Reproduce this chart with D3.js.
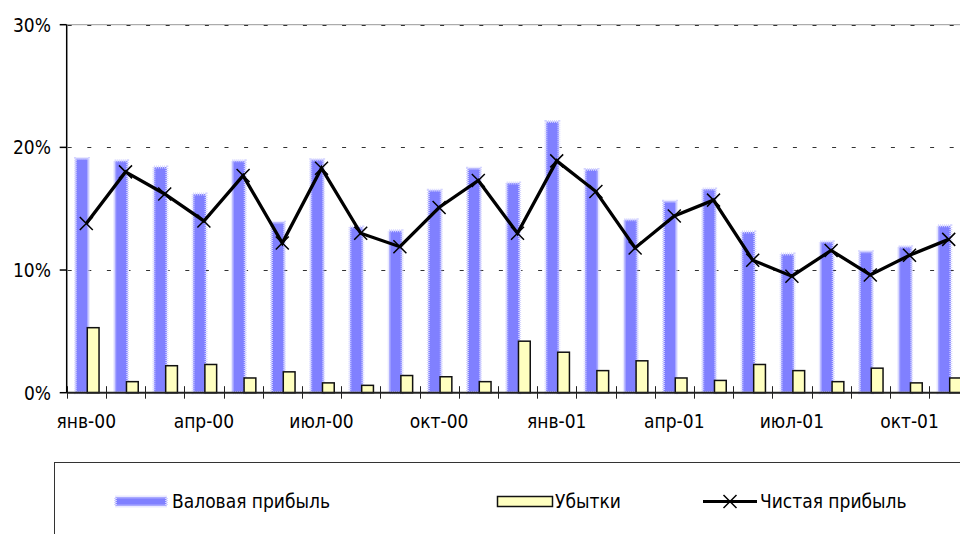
<!DOCTYPE html>
<html>
<head>
<meta charset="utf-8">
<script src="https://cdn.jsdelivr.net/npm/d3@7"></script>
<style>
  html, body { margin: 0; padding: 0; background: #fff; }
  svg { display: block; font-family: "DejaVu Sans Condensed", "DejaVu Sans", sans-serif; }
</style>
</head>
<body>
<div id="chart"></div>
<script>
const months = ['янв-00', 'фев-00', 'мар-00', 'апр-00', 'май-00', 'июн-00', 'июл-00', 'авг-00', 'сен-00', 'окт-00', 'ноя-00', 'дек-00',
    'янв-01', 'фев-01', 'мар-01', 'апр-01', 'май-01', 'июн-01', 'июл-01', 'авг-01', 'сен-01', 'окт-01', 'ноя-01'];
const grossProfit = [19.1, 18.9, 18.4, 16.2, 18.9, 13.9, 19.0, 13.5, 13.2, 16.5, 18.3, 17.1,
    22.1, 18.2, 14.1, 15.6, 16.6, 13.1, 11.3, 12.3, 11.5, 11.9, 13.6];
const losses = [5.3, 0.9, 2.2, 2.3, 1.2, 1.7, 0.8, 0.6, 1.4, 1.3, 0.9, 4.2,
    3.3, 1.8, 2.6, 1.2, 1.0, 2.3, 1.8, 0.9, 2.0, 0.8, 1.2];
const netProfit = [13.8, 18.0, 16.2, 14.0, 17.7, 12.2, 18.3, 13.0, 11.9, 15.1, 17.3, 13.0,
    18.9, 16.4, 11.8, 14.4, 15.7, 10.8, 9.5, 11.6, 9.6, 11.2, 12.5];
const yTicks = [0, 10, 20, 30];
const seriesNames = ['Валовая прибыль', 'Убытки', 'Чистая прибыль'];

const width = 960, height = 534;
const left = 66.7, step = 39.2;

const svg = d3.select('#chart').append('svg')
    .attr('width', width)
    .attr('height', height);

const x = d3.scaleBand()
    .domain(months)
    .range([left, left + months.length * step]);
const y = d3.scaleLinear().domain([0, 30]).range([392.7, 24.7]);
const bw = x.bandwidth();

// gridlines
const grid = svg.append('g');
grid.append('line')
    .attr('x1', left).attr('x2', width)
    .attr('y1', y(30)).attr('y2', y(30))
    .attr('stroke', '#999').attr('stroke-width', 1);
grid.selectAll('line.dash')
    .data(yTicks.filter(d => d > 0))
    .enter().append('line')
    .attr('class', 'dash')
    .attr('x1', left).attr('x2', width)
    .attr('y1', d => Math.round(y(d)) + 0.5).attr('y2', d => Math.round(y(d)) + 0.5)
    .attr('stroke', '#333')
    .attr('stroke-width', 1)
    .attr('stroke-dasharray', '4,15.6')
    .attr('stroke-dashoffset', -1);

// gross profit bars, light dotted halo round them
svg.append('g').selectAll('rect')
    .data(grossProfit)
    .enter().append('rect')
    .attr('x', (d, i) => x(months[i]) + bw * 0.225)
    .attr('width', bw * 0.33)
    .attr('y', d => y(d))
    .attr('height', d => y(0) - y(d))
    .attr('fill', '#8080ff')
    .attr('stroke', '#d4d4ff')
    .attr('stroke-width', 3)
    .attr('stroke-dasharray', '1,1');

// losses bars
svg.append('g').selectAll('rect')
    .data(losses)
    .enter().append('rect')
    .attr('x', (d, i) => x(months[i]) + bw * 0.525)
    .attr('width', bw * 0.3)
    .attr('y', d => y(d))
    .attr('height', d => y(0) - y(d))
    .attr('fill', '#ffffc0')
    .attr('stroke', '#111')
    .attr('stroke-width', 1.5);

// net profit line
const line = d3.line()
    .x((d, i) => x(months[i]) + bw / 2)
    .y(d => y(d));
svg.append('path')
    .datum(netProfit)
    .attr('d', line)
    .attr('fill', 'none')
    .attr('stroke', '#000')
    .attr('stroke-width', 3.3)
    .attr('stroke-linejoin', 'miter');

const cross = 6.5;
function drawCross(g, cx, cy) {
    g.append('path')
        .attr('d', `M${cx - cross},${cy - cross}L${cx + cross},${cy + cross}M${cx - cross},${cy + cross}L${cx + cross},${cy - cross}`)
        .attr('stroke', '#000')
        .attr('stroke-width', 1.5)
        .attr('fill', 'none');
}
const markers = svg.append('g');
netProfit.forEach((d, i) => drawCross(markers, x(months[i]) + bw / 2, y(d)));

// axes
const xAxis = svg.append('g');
xAxis.append('line')
    .attr('x1', left).attr('x2', width)
    .attr('y1', y(0)).attr('y2', y(0))
    .attr('stroke', '#222').attr('stroke-width', 2);
xAxis.selectAll('line.tick')
    .data(months)
    .enter().append('line')
    .attr('class', 'tick')
    .attr('x1', d => Math.round(x(d)) + 0.5).attr('x2', d => Math.round(x(d)) + 0.5)
    .attr('y1', y(0) - 6.5).attr('y2', y(0) + 6)
    .attr('stroke', '#222').attr('stroke-width', 1);
xAxis.selectAll('text')
    .data(months.filter((d, i) => i % 3 === 0))
    .enter().append('text')
    .attr('x', d => x(d) + bw / 2)
    .attr('y', 428)
    .attr('text-anchor', 'middle')
    .attr('font-size', 19)
    .attr('fill', '#000')
    .text(d => d);

const yAxis = svg.append('g');
yAxis.append('line')
    .attr('x1', left).attr('x2', left)
    .attr('y1', y(30)).attr('y2', y(0))
    .attr('stroke', '#000').attr('stroke-width', 1.5);
yAxis.selectAll('line.tick')
    .data(yTicks)
    .enter().append('line')
    .attr('class', 'tick')
    .attr('x1', left - 7).attr('x2', left)
    .attr('y1', d => y(d)).attr('y2', d => y(d))
    .attr('stroke', '#000').attr('stroke-width', 1.5);
yAxis.selectAll('text')
    .data(yTicks)
    .enter().append('text')
    .attr('x', 51)
    .attr('y', d => y(d))
    .attr('dy', '0.36em')
    .attr('text-anchor', 'end')
    .attr('font-size', 19)
    .attr('fill', '#000')
    .text(d => d + '%');

// legend
const legend = svg.append('g');
legend.append('rect')
    .attr('x', 54.5).attr('y', 462.5)
    .attr('width', 960).attr('height', 120)
    .attr('fill', '#fff')
    .attr('stroke', '#333').attr('stroke-width', 1);

const ly = 501.5;
legend.append('rect')
    .attr('x', 115.5).attr('y', ly - 4.5)
    .attr('width', 51).attr('height', 9)
    .attr('fill', '#8080ff')
    .attr('stroke', '#d4d4ff').attr('stroke-width', 3)
    .attr('stroke-dasharray', '1,1');
legend.append('rect')
    .attr('x', 497.5).attr('y', ly - 5)
    .attr('width', 55).attr('height', 10)
    .attr('fill', '#ffffc0')
    .attr('stroke', '#111').attr('stroke-width', 1.5);
legend.append('line')
    .attr('x1', 703).attr('x2', 757)
    .attr('y1', ly).attr('y2', ly)
    .attr('stroke', '#000').attr('stroke-width', 3);
drawCross(legend, 730, ly);

const legendX = [172, 555, 760];
legend.selectAll('text')
    .data(seriesNames)
    .enter().append('text')
    .attr('x', (d, i) => legendX[i])
    .attr('y', ly)
    .attr('dy', '0.36em')
    .attr('font-size', 19)
    .attr('fill', '#000')
    .text(d => d);
</script>
</body>
</html>
